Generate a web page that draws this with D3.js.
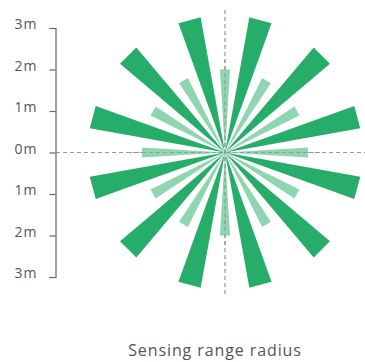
<!DOCTYPE html>
<html>
<head>
<meta charset="utf-8">
<script src="https://cdn.jsdelivr.net/npm/d3@7"></script>
<style>
  body { margin: 0; background: #fff; }
  text { font-family: "Open Sans", sans-serif; fill: #555; }
</style>
</head>
<body>
<div id="chart"></div>
<script>
// sensing directions (degrees, clockwise from up) and range (m)
const farDirections = [15, 45, 75, 105, 135, 165, 195, 225, 255, 285, 315, 345];
const farRange = [3.3, 3.3, 3.3, 3.3, 3.3, 3.3, 3.3, 3.3, 3.3, 3.3, 3.3, 3.3];
const nearDirections = [0, 30, 60, 90, 120, 150, 180, 210, 240, 270, 300, 330];
const nearRange = [2, 2, 2, 2, 2, 2, 2, 2, 2, 2, 2, 2];
const tickValues = [3, 2, 1, 0, -1, -2, -3];
const tickLabels = ["3m", "2m", "1m", "0m", "1m", "2m", "3m"];
const axisTitle = "Sensing range radius";

function renderRadar(containerId) {
  const width = 365;
  const height = 362;
  const cx = 225;

  const svg = d3.select(`#${containerId}`)
    .append("svg")
    .attr("width", width)
    .attr("height", height);

  const y = d3.scaleLinear().domain([-3, 3]).range([277, 28]);
  const r = d3.scaleLinear().domain([0, 3]).range([0, y(0) - y(3)]);
  const cy = y(0);

  // dashed cross
  svg.append("line")
    .attr("x1", 56).attr("x2", width)
    .attr("y1", cy).attr("y2", cy)
    .attr("stroke", "#999").attr("stroke-width", 1.2)
    .attr("stroke-dasharray", "4,3");
  svg.append("line")
    .attr("x1", cx).attr("x2", cx)
    .attr("y1", 10).attr("y2", 297)
    .attr("stroke", "#999").attr("stroke-width", 1.2)
    .attr("stroke-dasharray", "4,3");

  // wedge: triangle from centre with flat outer edge
  function wedge(angle, radius, halfWidth) {
    const a0 = (angle - halfWidth) * Math.PI / 180;
    const a1 = (angle + halfWidth) * Math.PI / 180;
    const rr = r(radius) / Math.cos(halfWidth * Math.PI / 180);
    return `M${cx},${cy}` +
      `L${cx + rr * Math.sin(a0)},${cy - rr * Math.cos(a0)}` +
      `L${cx + rr * Math.sin(a1)},${cy - rr * Math.cos(a1)}Z`;
  }

  const g = svg.append("g");

  g.selectAll("path.near")
    .data(nearDirections)
    .join("path")
    .attr("class", "near")
    .attr("fill", "#8fd5b0")
    .attr("d", (d, i) => wedge(d, nearRange[i], 3.5));

  g.selectAll("path.far")
    .data(farDirections)
    .join("path")
    .attr("class", "far")
    .attr("fill", "#27ad6a")
    .attr("d", (d, i) => wedge(d, farRange[i], 4.8));

  // redraw dashes on top of near bars
  svg.append("line")
    .attr("x1", 130).attr("x2", 320)
    .attr("y1", cy).attr("y2", cy)
    .attr("stroke", "#999").attr("stroke-width", 1.2)
    .attr("stroke-dasharray", "4,3")
    .attr("stroke-dashoffset", 2);
  svg.append("line")
    .attr("x1", cx).attr("x2", cx)
    .attr("y1", 60).attr("y2", 245)
    .attr("stroke", "#999").attr("stroke-width", 1.2)
    .attr("stroke-dasharray", "4,3")
    .attr("stroke-dashoffset", 1);

  // left axis
  const axis = svg.append("g")
    .attr("transform", "translate(55.5,0)")
    .call(d3.axisLeft(y)
      .tickValues(tickValues)
      .tickSize(6)
      .tickPadding(12)
      .tickFormat((d, i) => tickLabels[i]));
  axis.select(".domain").attr("stroke", "#666").attr("stroke-width", 1.2);
  axis.selectAll(".tick line").attr("stroke", "#666").attr("stroke-width", 1.2);
  axis.selectAll(".tick text")
    .attr("font-size", 14)
    .attr("dy", "0.05em")
    .attr("fill", "#555")
    .style("letter-spacing", "1px")
    .style("font-family", "'Open Sans', sans-serif");

  svg.append("text")
    .attr("x", 215)
    .attr("y", 356)
    .attr("text-anchor", "middle")
    .attr("font-size", 16)
    .style("letter-spacing", "0.9px")
    .text(axisTitle);
}

renderRadar("chart");
</script>
</body>
</html>
